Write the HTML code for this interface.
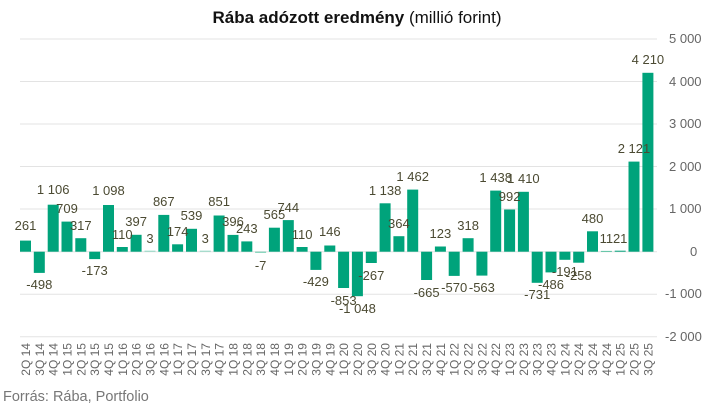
<!DOCTYPE html>
<html><head><meta charset="utf-8"><style>
body{margin:0;background:#fff;width:714px;height:407px;overflow:hidden}
text{font-family:"Liberation Sans",sans-serif}
.l{font-size:13px;fill:#4b4a32;text-anchor:middle}
.a{font-size:12px;fill:#666;text-anchor:end}
.y{font-size:13px;fill:#666}
rect{fill:#00a37b}
</style></head><body>
<svg width="714" height="407" viewBox="0 0 714 407">
<text x="357" y="23" text-anchor="middle" style="font-size:17px;fill:#111"><tspan font-weight="bold">Rába adózott eredmény</tspan> (millió forint)</text>
<g stroke="#e3e3e3" stroke-width="1">
<line x1="20" x2="657" y1="39" y2="39"/><line x1="20" x2="657" y1="81.5" y2="81.5"/><line x1="20" x2="657" y1="124" y2="124"/><line x1="20" x2="657" y1="166.5" y2="166.5"/><line x1="20" x2="657" y1="209" y2="209"/><line x1="20" x2="657" y1="251.7" y2="251.7"/><line x1="20" x2="657" y1="294.3" y2="294.3"/><line x1="20" x2="657" y1="336.8" y2="336.8"/>
</g>
<g class="y">
<text x="669" y="43">5 000</text><text x="669" y="86">4 000</text><text x="669" y="128">3 000</text><text x="669" y="171">2 000</text><text x="669" y="213">1 000</text><text x="690" y="256">0</text><text x="665" y="298">-1 000</text><text x="665" y="341">-2 000</text>
</g>
<g>
<rect x="20" y="240.6" width="11" height="11.1"/>
<rect x="33.8" y="251.7" width="11" height="21.2"/>
<rect x="47.7" y="204.7" width="11" height="47"/>
<rect x="61.5" y="221.6" width="11" height="30.1"/>
<rect x="75.3" y="238.2" width="11" height="13.5"/>
<rect x="89.2" y="251.7" width="11" height="7.4"/>
<rect x="103" y="205" width="11" height="46.7"/>
<rect x="116.8" y="247" width="11" height="4.7"/>
<rect x="130.6" y="234.8" width="11" height="16.9"/>
<rect x="144.5" y="250.7" width="11" height="1" style="fill:#8fd8c3"/>
<rect x="158.3" y="214.9" width="11" height="36.8"/>
<rect x="172.1" y="244.3" width="11" height="7.4"/>
<rect x="186" y="228.8" width="11" height="22.9"/>
<rect x="199.8" y="250.7" width="11" height="1" style="fill:#8fd8c3"/>
<rect x="213.6" y="215.5" width="11" height="36.2"/>
<rect x="227.5" y="234.9" width="11" height="16.8"/>
<rect x="241.3" y="241.4" width="11" height="10.3"/>
<rect x="255.1" y="251.7" width="11" height="1" style="fill:#5cc4a4"/>
<rect x="268.9" y="227.7" width="11" height="24"/>
<rect x="282.8" y="220.1" width="11" height="31.6"/>
<rect x="296.6" y="247" width="11" height="4.7"/>
<rect x="310.4" y="251.7" width="11" height="18.2"/>
<rect x="324.3" y="245.5" width="11" height="6.2"/>
<rect x="338.1" y="251.7" width="11" height="36.3"/>
<rect x="351.9" y="251.7" width="11" height="44.5"/>
<rect x="365.8" y="251.7" width="11" height="11.3"/>
<rect x="379.6" y="203.3" width="11" height="48.4"/>
<rect x="393.4" y="236.2" width="11" height="15.5"/>
<rect x="407.2" y="189.6" width="11" height="62.1"/>
<rect x="421.1" y="251.7" width="11" height="28.3"/>
<rect x="434.9" y="246.5" width="11" height="5.2"/>
<rect x="448.7" y="251.7" width="11" height="24.2"/>
<rect x="462.6" y="238.2" width="11" height="13.5"/>
<rect x="476.4" y="251.7" width="11" height="23.9"/>
<rect x="490.2" y="190.6" width="11" height="61.1"/>
<rect x="504.1" y="209.5" width="11" height="42.2"/>
<rect x="517.9" y="191.8" width="11" height="59.9"/>
<rect x="531.7" y="251.7" width="11" height="31.1"/>
<rect x="545.5" y="251.7" width="11" height="20.7"/>
<rect x="559.4" y="251.7" width="11" height="8.1"/>
<rect x="573.2" y="251.7" width="11" height="11"/>
<rect x="587" y="231.3" width="11" height="20.4"/>
<rect x="600.9" y="250.9" width="11" height="1" style="fill:#5cc4a4"/>
<rect x="614.7" y="250.7" width="11" height="1"/>
<rect x="628.5" y="161.6" width="11" height="90.1"/>
<rect x="642.4" y="72.8" width="11" height="178.9"/>
</g>
<g class="l">
<text x="25.5" y="230">261</text>
<text x="39.3" y="289">-498</text>
<text x="53.2" y="194">1 106</text>
<text x="67" y="213">709</text>
<text x="80.8" y="230">317</text>
<text x="94.7" y="275">-173</text>
<text x="108.5" y="195">1 098</text>
<text x="122.3" y="239">110</text>
<text x="136.1" y="226">397</text>
<text x="150" y="243">3</text>
<text x="163.8" y="206">867</text>
<text x="177.6" y="236">174</text>
<text x="191.5" y="220">539</text>
<text x="205.3" y="243">3</text>
<text x="219.1" y="206">851</text>
<text x="233" y="226">396</text>
<text x="246.8" y="233">243</text>
<text x="260.6" y="270">-7</text>
<text x="274.4" y="219">565</text>
<text x="288.3" y="212">744</text>
<text x="302.1" y="239">110</text>
<text x="315.9" y="286">-429</text>
<text x="329.8" y="236">146</text>
<text x="343.6" y="305">-853</text>
<text x="357.4" y="313">-1 048</text>
<text x="371.3" y="280">-267</text>
<text x="385.1" y="195">1 138</text>
<text x="398.9" y="228">364</text>
<text x="412.7" y="181">1 462</text>
<text x="426.6" y="297">-665</text>
<text x="440.4" y="238">123</text>
<text x="454.2" y="292">-570</text>
<text x="468.1" y="230">318</text>
<text x="481.9" y="292">-563</text>
<text x="495.7" y="182">1 438</text>
<text x="509.6" y="201">992</text>
<text x="523.4" y="183">1 410</text>
<text x="537.2" y="299">-731</text>
<text x="551" y="289">-486</text>
<text x="564.9" y="276">-191</text>
<text x="578.7" y="280">-258</text>
<text x="592.5" y="223">480</text>
<text x="606.4" y="243">11</text>
<text x="620.2" y="243">21</text>
<text x="634" y="153">2 121</text>
<text x="647.9" y="64">4 210</text>
</g>
<g class="a">
<text transform="translate(30,343) rotate(-90)">2Q 14</text>
<text transform="translate(43.8,343) rotate(-90)">3Q 14</text>
<text transform="translate(57.7,343) rotate(-90)">4Q 14</text>
<text transform="translate(71.5,343) rotate(-90)">1Q 15</text>
<text transform="translate(85.3,343) rotate(-90)">2Q 15</text>
<text transform="translate(99.2,343) rotate(-90)">3Q 15</text>
<text transform="translate(113,343) rotate(-90)">4Q 15</text>
<text transform="translate(126.8,343) rotate(-90)">1Q 16</text>
<text transform="translate(140.6,343) rotate(-90)">2Q 16</text>
<text transform="translate(154.5,343) rotate(-90)">3Q 16</text>
<text transform="translate(168.3,343) rotate(-90)">4Q 16</text>
<text transform="translate(182.1,343) rotate(-90)">1Q 17</text>
<text transform="translate(196,343) rotate(-90)">2Q 17</text>
<text transform="translate(209.8,343) rotate(-90)">3Q 17</text>
<text transform="translate(223.6,343) rotate(-90)">4Q 17</text>
<text transform="translate(237.5,343) rotate(-90)">1Q 18</text>
<text transform="translate(251.3,343) rotate(-90)">2Q 18</text>
<text transform="translate(265.1,343) rotate(-90)">3Q 18</text>
<text transform="translate(278.9,343) rotate(-90)">4Q 18</text>
<text transform="translate(292.8,343) rotate(-90)">1Q 19</text>
<text transform="translate(306.6,343) rotate(-90)">2Q 19</text>
<text transform="translate(320.4,343) rotate(-90)">3Q 19</text>
<text transform="translate(334.3,343) rotate(-90)">4Q 19</text>
<text transform="translate(348.1,343) rotate(-90)">1Q 20</text>
<text transform="translate(361.9,343) rotate(-90)">2Q 20</text>
<text transform="translate(375.8,343) rotate(-90)">3Q 20</text>
<text transform="translate(389.6,343) rotate(-90)">4Q 20</text>
<text transform="translate(403.4,343) rotate(-90)">1Q 21</text>
<text transform="translate(417.2,343) rotate(-90)">2Q 21</text>
<text transform="translate(431.1,343) rotate(-90)">3Q 21</text>
<text transform="translate(444.9,343) rotate(-90)">4Q 21</text>
<text transform="translate(458.7,343) rotate(-90)">1Q 22</text>
<text transform="translate(472.6,343) rotate(-90)">2Q 22</text>
<text transform="translate(486.4,343) rotate(-90)">3Q 22</text>
<text transform="translate(500.2,343) rotate(-90)">4Q 22</text>
<text transform="translate(514.1,343) rotate(-90)">1Q 23</text>
<text transform="translate(527.9,343) rotate(-90)">2Q 23</text>
<text transform="translate(541.7,343) rotate(-90)">3Q 23</text>
<text transform="translate(555.5,343) rotate(-90)">4Q 23</text>
<text transform="translate(569.4,343) rotate(-90)">1Q 24</text>
<text transform="translate(583.2,343) rotate(-90)">2Q 24</text>
<text transform="translate(597,343) rotate(-90)">3Q 24</text>
<text transform="translate(610.9,343) rotate(-90)">4Q 24</text>
<text transform="translate(624.7,343) rotate(-90)">1Q 25</text>
<text transform="translate(638.5,343) rotate(-90)">2Q 25</text>
<text transform="translate(652.4,343) rotate(-90)">3Q 25</text>
</g>
<text x="3" y="401" style="font-size:14.5px;fill:#777">Forrás: Rába, Portfolio</text>
</svg>
</body></html>
